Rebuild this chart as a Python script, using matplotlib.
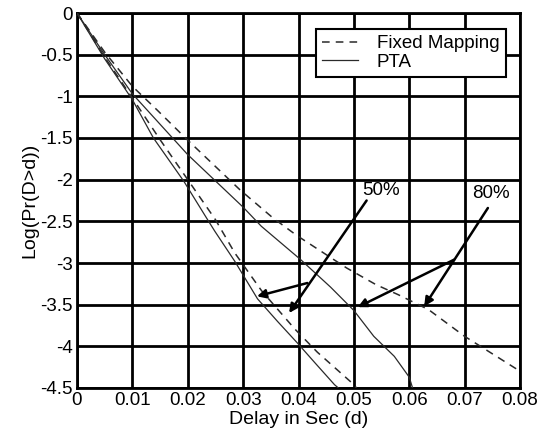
import matplotlib
matplotlib.use("Agg")
import matplotlib.pyplot as plt

# ---- data ----
d_pta50 = [0, 0.005, 0.01, 0.0138, 0.0193, 0.0233, 0.0249, 0.0285, 0.0326, 0.0362, 0.0398, 0.043, 0.0465, 0.0472]
y_pta50 = [0, -0.55, -1.04, -1.5, -2.02, -2.45, -2.62, -2.98, -3.43, -3.70, -3.96, -4.2, -4.46, -4.5]

d_fm50 = [0, 0.005, 0.01, 0.015, 0.02, 0.025, 0.0285, 0.0333, 0.0393, 0.0434, 0.0495, 0.0505]
y_fm50 = [0, -0.53, -1.02, -1.52, -2.0, -2.48, -2.88, -3.33, -3.79, -4.07, -4.43, -4.5]

d_pta80 = [0, 0.005, 0.01, 0.02, 0.03, 0.0333, 0.0404, 0.0458, 0.05, 0.0536, 0.0573, 0.06, 0.0606]
y_pta80 = [0, -0.5, -0.97, -1.7, -2.33, -2.56, -2.96, -3.29, -3.57, -3.88, -4.12, -4.37, -4.5]

d_fm80 = [0, 0.005, 0.01, 0.0144, 0.0199, 0.0294, 0.0354, 0.0397, 0.0487, 0.054, 0.058, 0.0635, 0.07, 0.0798]
y_fm80 = [0, -0.47, -0.88, -1.16, -1.52, -2.12, -2.46, -2.67, -3.06, -3.26, -3.38, -3.56, -3.88, -4.29]

x_ticks = [0, 0.01, 0.02, 0.03, 0.04, 0.05, 0.06, 0.07, 0.08]
x_tick_labels = ["0", "0.01", "0.02", "0.03", "0.04", "0.05", "0.06", "0.07", "0.08"]
y_ticks = [0, -0.5, -1, -1.5, -2, -2.5, -3, -3.5, -4, -4.5]
y_tick_labels = ["0", "-0.5", "-1", "-1.5", "-2", "-2.5", "-3", "-3.5", "-4", "-4.5"]

plt.rcParams['font.family'] = ['Liberation Sans', 'DejaVu Sans']

fig = plt.figure(figsize=(5.48, 4.41), dpi=100)
ax = fig.add_axes([77/548, 1-388/441, (520-77)/548, (388-13)/441])

line_col = '#2a2a2a'
ax.plot(d_fm80, y_fm80, color=line_col, lw=1.1, dashes=(5, 4), label='Fixed Mapping', zorder=3)
ax.plot(d_pta80, y_pta80, color=line_col, lw=0.9, label='PTA', zorder=3)
ax.plot(d_fm50, y_fm50, color=line_col, lw=1.1, dashes=(5, 4), zorder=3)
ax.plot(d_pta50, y_pta50, color=line_col, lw=0.9, zorder=3)

ax.set_xlim(0, 0.08)
ax.set_ylim(-4.5, 0)
ax.set_xticks(x_ticks)
ax.set_xticklabels(x_tick_labels)
ax.set_yticks(y_ticks)
ax.set_yticklabels(y_tick_labels)
ax.tick_params(labelsize=13.5, length=0, pad=3)
ax.grid(True, color='black', lw=2, zorder=1)
ax.set_axisbelow(True)
for s in ax.spines.values():
    s.set_linewidth(2)

ax.set_xlabel("Delay in Sec (d)", fontsize=14, labelpad=1)
ax.set_ylabel("Log(Pr(D>d))", fontsize=14, labelpad=1)

leg = ax.legend(loc='upper right', fontsize=13.5, frameon=True, fancybox=False,
                edgecolor='black', framealpha=1, borderpad=0.35, labelspacing=0.05,
                handlelength=1.9, handletextpad=1.0, borderaxespad=0,
                bbox_to_anchor=(0.968, 0.958))
leg.get_frame().set_linewidth(1.5)
leg.set_zorder(5)

ap = dict(arrowstyle='-|>', lw=1.8, color='black', mutation_scale=13, shrinkA=0, shrinkB=0)
ax.text(0.0515, -2.13, "50%", fontsize=13.5, va='center', ha='left', zorder=6)
ax.text(0.0713, -2.17, "80%", fontsize=13.5, va='center', ha='left', zorder=6)
ax.annotate("", xy=(0.0383, -3.6), xytext=(0.0523, -2.25), arrowprops=ap, zorder=6)
ax.annotate("", xy=(0.0325, -3.4), xytext=(0.0416, -3.24), arrowprops=ap, zorder=6)
ax.annotate("", xy=(0.0627, -3.52), xytext=(0.0742, -2.34), arrowprops=ap, zorder=6)
ax.annotate("", xy=(0.0507, -3.53), xytext=(0.0681, -2.96), arrowprops=ap, zorder=6)

fig.savefig("out.png", dpi=100)
